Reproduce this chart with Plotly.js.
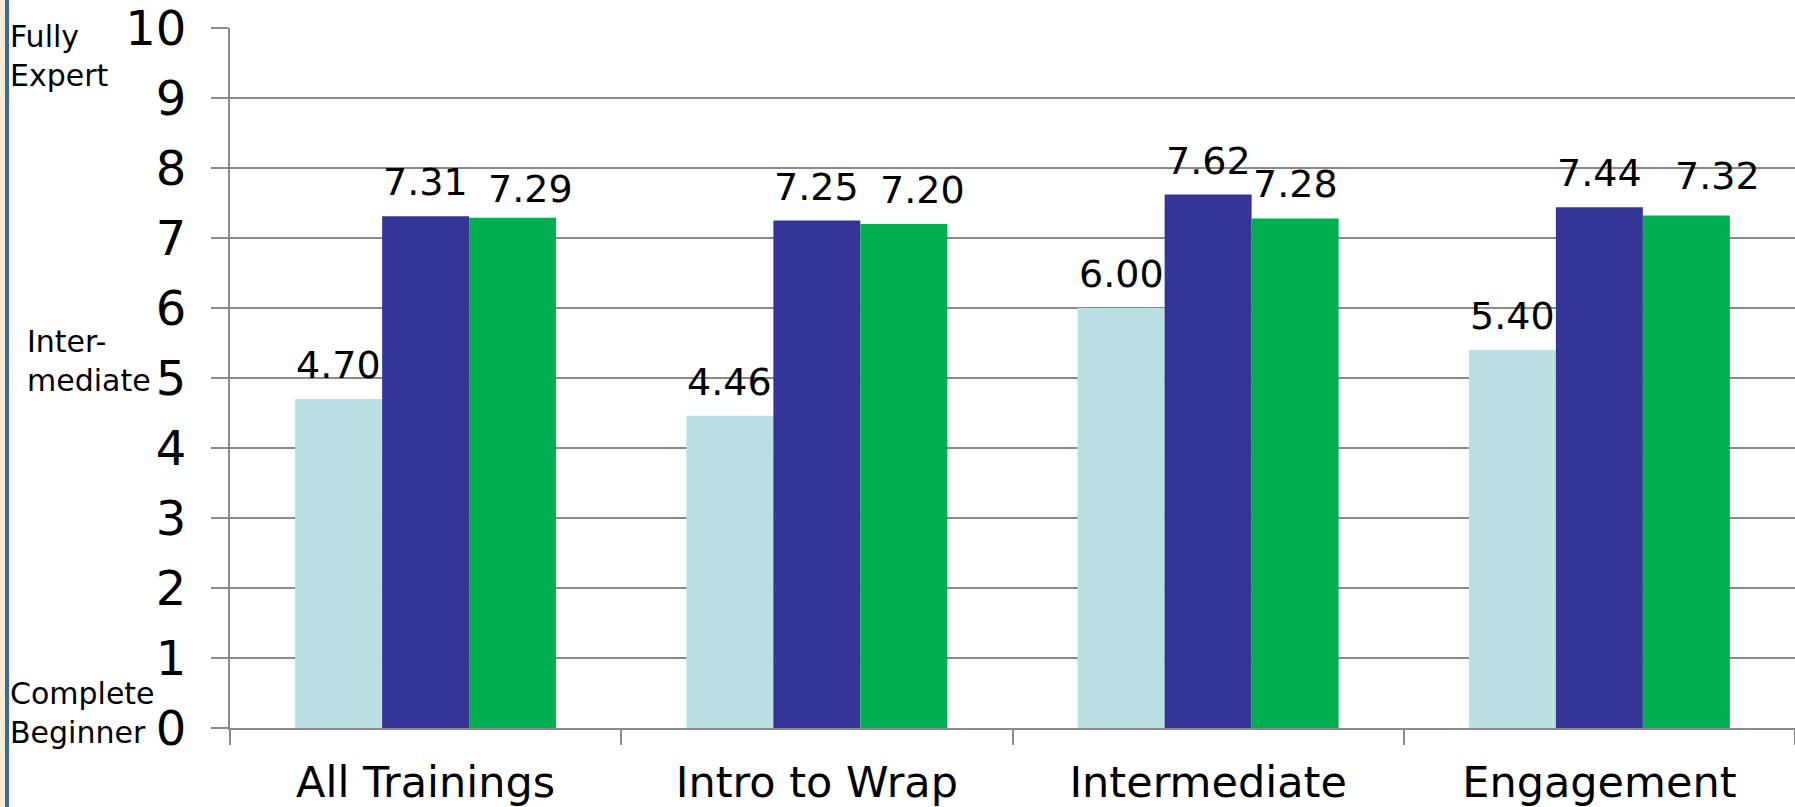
<!DOCTYPE html>
<html><head><meta charset="utf-8">
<script src="https://cdn.plot.ly/plotly-3.0.1.min.js"></script>
<style>html,body{margin:0;padding:0;background:#fff;}#chart{width:1795px;height:807px;}</style>
</head><body><div id="chart"></div>
<script>
const categories = ["All Trainings", "Intro to Wrap", "Intermediate", "Engagement"];
const seriesA = [4.70, 4.46, 6.00, 5.40];
const seriesB = [7.31, 7.25, 7.62, 7.44];
const seriesC = [7.29, 7.20, 7.28, 7.32];
const yTicks = [0,1,2,3,4,5,6,7,8,9,10];
const sideLabelText = ["Fully<br>Expert", "Inter-<br>mediate", "Complete<br>Beginner"];

// style / placement (not data)
const colors = ["#BAE0E3", "#353598", "#00AF50"];
const sideLabelPos = [{x: 8, y: 9.60}, {x: 25, y: 5.24}, {x: 8, y: 0.22}];
const labelXShift = [[0,0,0,0],[0,0,0,0],[18,19,0,31]];
const labelYShift = [[0,0,0,0],[0,0,0,0],[-5,0,0,6]];

const W = 1795, H = 807, mL = 230, mR = 0, mT = 28, mB = 79;
const plotW = W - mL - mR;
const font = "DejaVu Sans, Verdana, sans-serif";
const bargap = 0.333;
const barW = (1 - bargap) / 3;

function mk(vals, color) {
  return {
    type: "bar", x: categories, y: vals,
    marker: {color: color, line: {width: 0}},
    hoverinfo: "skip", showlegend: false
  };
}
const allSeries = [seriesA, seriesB, seriesC];
const data = allSeries.map((s, k) => mk(s, colors[k]));

const annotations = sideLabelText.map((t, i) => ({
  xref: "paper", yref: "y", x: (sideLabelPos[i].x - mL) / plotW, y: sideLabelPos[i].y,
  xanchor: "left", yanchor: "middle", align: "left",
  text: t, showarrow: false,
  font: {family: font, size: 30, color: "#000"}
}));

allSeries.forEach((s, k) => {
  s.forEach((v, i) => {
    annotations.push({
      xref: "x", yref: "y", x: i + (k - 1) * barW, y: v,
      xanchor: "center", yanchor: "bottom", showarrow: false,
      text: v.toFixed(2), xshift: labelXShift[k][i], yshift: 10 + labelYShift[k][i],
      font: {family: font, size: 38, color: "#000"}
    });
  });
});

const layout = {
  width: W, height: H,
  margin: {l: mL, r: mR, t: mT, b: mB, pad: 0},
  paper_bgcolor: "#fff", plot_bgcolor: "#fff",
  barmode: "group", bargap: bargap, bargroupgap: 0,
  font: {family: font, color: "#000"},
  xaxis: {
    type: "category", tickson: "boundaries", ticks: "outside", ticklen: 15,
    tickwidth: 2, tickcolor: "#8a8a8a", showline: true, linecolor: "#8a8a8a", linewidth: 2,
    showgrid: false, tickfont: {family: font, size: 43, color: "#000"},
    ticklabelstandoff: 15, ticklabeloverflow: "allow"
  },
  yaxis: {
    range: [0, 10], tickvals: yTicks, ticktext: yTicks.map(String),
    ticks: "outside", ticklen: 17, tickwidth: 2, tickcolor: "#8a8a8a",
    showline: true, linecolor: "#8a8a8a", linewidth: 2,
    showgrid: true, gridcolor: "#8a8a8a", gridwidth: 2, zeroline: false,
    tickfont: {family: font, size: 48, color: "#000"},
    ticklabelstandoff: 15, ticklabeloverflow: "allow"
  },
  annotations: annotations,
  shapes: [
    {type: "rect", xref: "paper", yref: "paper", x0: -mL / plotW, x1: -(mL - 5) / plotW,
     y0: -mB / (H - mT - mB), y1: 1 + mT / (H - mT - mB), fillcolor: "#FDEBD2", line: {width: 0}, layer: "below"},
    {type: "rect", xref: "paper", yref: "paper", x0: -(mL - 5) / plotW, x1: -(mL - 9) / plotW,
     y0: -mB / (H - mT - mB), y1: 1 + mT / (H - mT - mB), fillcolor: "#3A6BA3", line: {width: 0}, layer: "below"}
  ]
};

Plotly.newPlot("chart", data, layout, {displayModeBar: false, staticPlot: true});
</script></body></html>
